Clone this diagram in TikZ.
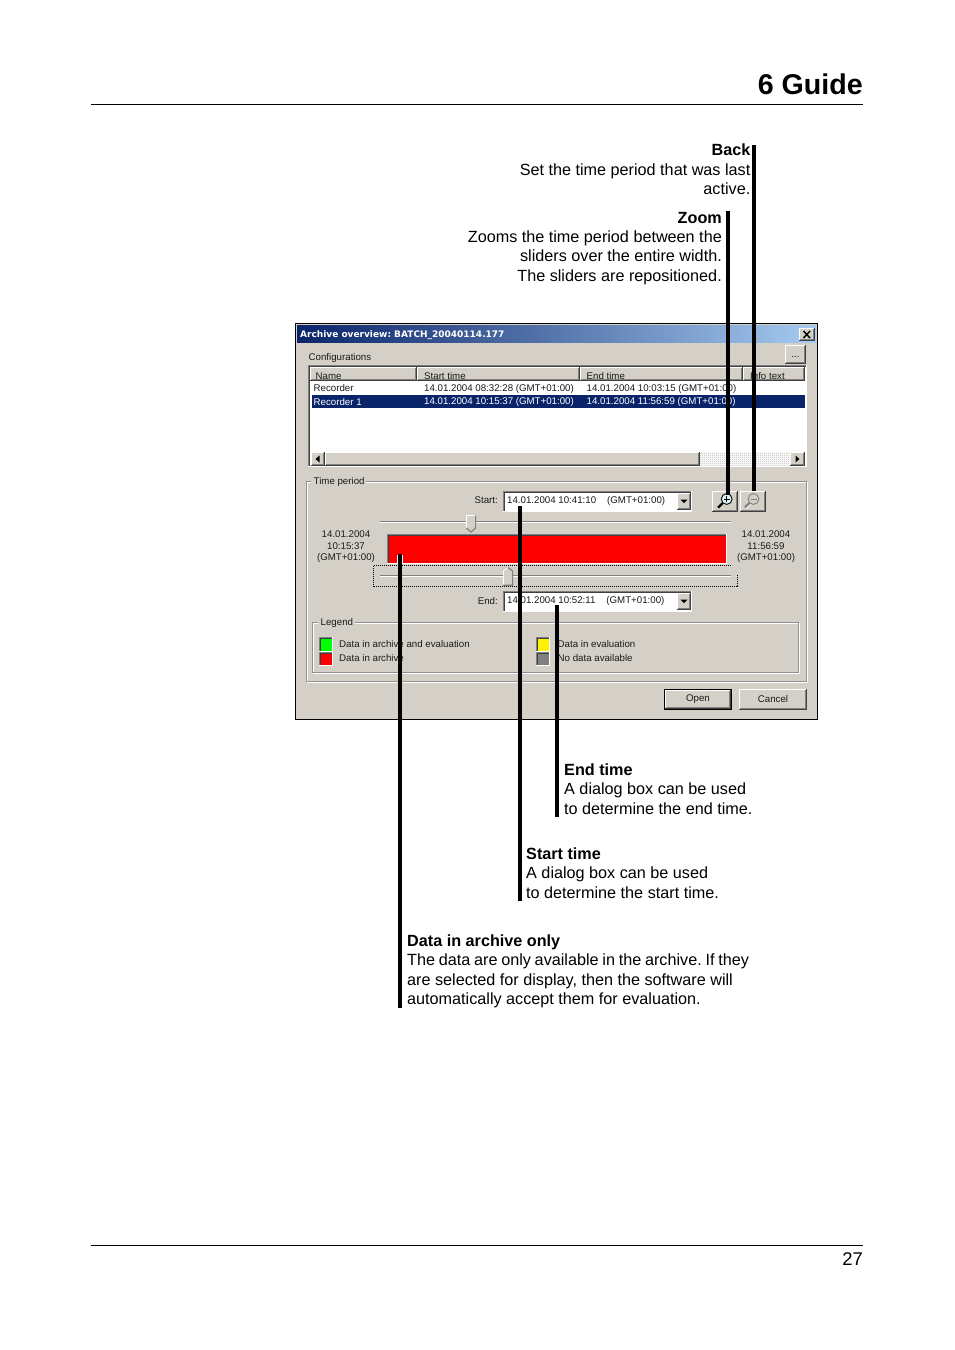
\documentclass[tikz,border=0pt]{standalone}
\usepackage{fontspec}
\usetikzlibrary{patterns}
\setmainfont{Liberation Sans}
\newfontfamily\titlefont{DejaVu Sans}
\frenchspacing
\definecolor{face}{HTML}{D4D0C8}
\definecolor{midgray}{HTML}{808080}
\definecolor{deep}{HTML}{404040}
\definecolor{navy}{HTML}{0A246A}
\definecolor{sky}{HTML}{A6CAF0}
\definecolor{uitext}{HTML}{1A1A1A}
\definecolor{lens}{HTML}{DDF6F8}
\pgfdeclarepatternformonly{scrolldots}{\pgfpointorigin}{\pgfqpoint{2pt}{2pt}}{\pgfqpoint{2pt}{2pt}}{%
  \pgfpathrectangle{\pgfpointorigin}{\pgfqpoint{1pt}{1pt}}%
  \pgfpathrectangle{\pgfqpoint{1pt}{1pt}}{\pgfqpoint{1pt}{1pt}}%
  \pgfusepath{fill}}
\tikzset{
  doc/.style={inner sep=0pt,font=\fontsize{16.2}{19.3}\selectfont},
  docr/.style={doc,align=right,anchor=north east},
  docl/.style={doc,align=left,anchor=north west},
  ui/.style={inner sep=0pt,text=uitext,font=\fontsize{9.7}{11.6}\selectfont},
  uil/.style={ui,anchor=west},
  uir/.style={ui,anchor=east},
  uic/.style={ui,anchor=center},
  uis/.style={uil,text=white},
  leader/.style={line width=3.8pt,black,line cap=butt},
  halo/.style={line width=5.8pt,white,line cap=butt},
  rule/.style={line width=0.8pt,black}
}
% raised button
\newcommand\rbtn[4]{%
  \fill[face] (#1,#2) rectangle (#3,#4);
  \draw[white,line width=1pt] (#1+.5,#4-1) -- (#1+.5,#2+.5) -- (#3-1,#2+.5);
  \draw[deep,line width=1pt] (#1,#4-.5) -- (#3-.5,#4-.5) -- (#3-.5,#2);
  \draw[midgray,line width=1pt] (#1+1,#4-1.5) -- (#3-1.5,#4-1.5) -- (#3-1.5,#2+1);
}
% sunken frame
\newcommand\sunk[5]{%
  \fill[#5] (#1,#2) rectangle (#3,#4);
  \draw[midgray,line width=1pt] (#1+.5,#4) -- (#1+.5,#2+.5) -- (#3,#2+.5);
  \draw[deep,line width=1pt] (#1+1.5,#4-1) -- (#1+1.5,#2+1.5) -- (#3-1,#2+1.5);
  \draw[white,line width=1pt] (#1,#4-.5) -- (#3-.5,#4-.5) -- (#3-.5,#2);
}
% etched group frame
\newcommand\etched[4]{%
  \draw[white,line width=1pt] (#1+1,#2+1) rectangle (#3+1,#4+1);
  \draw[midgray!80!face,line width=1pt] (#1,#2) rectangle (#3,#4);
}
\begin{document}
\begin{tikzpicture}[x=1pt,y=-1pt]
\useasboundingbox (0,0) rectangle (954,1350);
\fill[white] (0,0) rectangle (954,1350);

% page furniture
\node[inner sep=0pt,anchor=base east,font=\fontsize{28.6}{32}\selectfont\bfseries] (head) at (863,94) {6 Guide};
\coordinate (headL) at (91,104.5); \coordinate (headR) at (863,104.5);
\draw[rule] (headL) -- (headR);
\coordinate (footL) at (91,1245.5); \coordinate (footR) at (863,1245.5);
\draw[rule] (footL) -- (footR);
\node[inner sep=0pt,anchor=base east,font=\fontsize{18.4}{20}\selectfont] (pageno) at (863,1265.5) {27};

% window
\fill[face] (295,323) rectangle (818,720);
\draw[black,line width=1.2pt] (295.6,323.6) rectangle (817.6,719.4);
\shade[left color=navy,right color=sky] (297,325) rectangle (816,342);
\node[uil,text=white,font=\titlefont\bfseries\fontsize{9}{11}\selectfont] (wintitle) at (300,335.5) {Archive overview: BATCH\_20040114.177};
\rbtn{799}{328}{815}{341}
\draw[black,line width=1.5pt] (803.5,331) -- (810,338) (810,331) -- (803.5,338);

\node[uil] (cfg) at (308.5,357.5) {Configurations};
\rbtn{785}{345}{806}{364}
\node[uic] (dots) at (795.5,356.5) {...};

% list
\sunk{308}{365}{807}{467}{white}
\rbtn{310}{367}{417}{381}
\rbtn{417}{367}{580}{381}
\rbtn{580}{367}{743}{381}
\rbtn{743}{367}{805}{381}
\node[uil] (h1) at (315.5,376) {Name};
\node[uil] (h2) at (424,376) {Start time};
\node[uil] (h3) at (586.5,376) {End time};
\node[uil] (h4) at (750,376) {Info text};
\node[uil] (r1a) at (313.5,388.5) {Recorder};
\node[uil] (r1b) at (424,388.5) {14.01.2004 08:32:28 (GMT+01:00)};
\node[uil] (r1c) at (586.5,388.5) {14.01.2004 10:03:15 (GMT+01:00)};
\fill[navy] (312,395) rectangle (805,407.5);
\node[uis] (r2a) at (313.5,402) {Recorder 1};
\node[uis] (r2b) at (424,402) {14.01.2004 10:15:37 (GMT+01:00)};
\node[uis] (r2c) at (586.5,402) {14.01.2004 11:56:59 (GMT+01:00)};
% scrollbar
\fill[pattern=scrolldots,pattern color=midgray!55!white] (700,452) rectangle (790,465.5);
\rbtn{311}{452}{325}{466}
\fill[black] (319.5,455.5) -- (315.5,459) -- (319.5,462.5) -- cycle;
\rbtn{325}{452}{700}{466}
\rbtn{790}{452}{805}{466}
\fill[black] (795.5,455.5) -- (799.5,459) -- (795.5,462.5) -- cycle;

% time period group
\etched{306}{481}{806}{681}
\fill[face] (311,475) rectangle (366,488);
\node[uil] (tp) at (313.5,482) {Time period};

\node[uir] (startL) at (498,500.5) {Start:};
\sunk{503}{491}{692}{512}{white}
\node[uil] (startV) at (507,500.5) {14.01.2004 10:41:10\hspace{11pt}(GMT+01:00)};
\rbtn{677}{493}{691}{510}
\fill[black] (680.5,499.5) -- (687.5,499.5) -- (684,503) -- cycle;

% magnifier buttons
\rbtn{712}{491}{738}{511.5}
\rbtn{739.5}{491}{766}{511.5}
\draw[black,line width=2.2pt] (722.8,503) -- (718,507.7);
\draw[black,fill=lens,line width=.9pt] (726.7,499) circle (5.4);
\draw[black,line width=.8pt] (723.7,499) -- (729.7,499) (726.7,496) -- (726.7,502);
\draw[white,line width=2.2pt] (750,503.8) -- (746,508);
\draw[midgray,line width=2.2pt] (749.5,503) -- (745,507.3);
\draw[midgray,line width=.9pt] (753.5,499) circle (5.4);
\draw[midgray,line width=.8pt] (750.5,499) -- (756.5,499);

% sliders
\draw[midgray,line width=1.2pt] (380,521.5) -- (731,521.5);
\draw[white,line width=1pt] (380,522.7) -- (731,522.7);
\fill[face] (466,515) -- (476,515) -- (476,528) -- (471,532) -- (466,528) -- cycle;
\draw[white,line width=.8pt] (466.4,528) -- (466.4,515.4) -- (476,515.4);
\draw[midgray,line width=1.2pt] (475.6,515.4) -- (475.6,528) -- (471,532) -- (466.4,528);

\sunk{387}{534}{726.5}{563.5}{red}
\draw[black,line width=.7pt,dash pattern=on 1pt off 1pt] (737.5,575) -- (737.5,586) -- (373.5,586) -- (373.5,565.7) -- (731,565.7);
\draw[midgray,line width=1.2pt] (380,575.5) -- (731,575.5);
\draw[white,line width=1pt] (380,576.8) -- (731,576.8);
\fill[face] (503,585.5) -- (513,585.5) -- (513,571) -- (508,567) -- (503,571) -- cycle;
\draw[white,line width=.8pt] (503.4,585) -- (503.4,571) -- (508,567.4);
\draw[midgray,line width=1.2pt] (508,567.4) -- (512.6,571) -- (512.6,585.2) -- (503,585.2);

\node[uic,align=center] (dL) at (346,547) {14.01.2004\\10:15:37\\(GMT+01:00)};
\node[uic,align=center] (dR) at (766,547) {14.01.2004\\11:56:59\\(GMT+01:00)};

\node[uir] (endL) at (498,601.5) {End:};
\sunk{503}{591}{692}{611.5}{white}
\node[uil] (endV) at (507,601) {14.01.2004 10:52:11\hspace{11pt}(GMT+01:00)};
\rbtn{677}{592.5}{691}{610}
\fill[black] (680.5,599.5) -- (687.5,599.5) -- (684,603) -- cycle;

% legend
\etched{312.5}{622}{798.5}{672.5}
\fill[face] (318,616) rectangle (354.5,628);
\node[uil] (leg) at (320.5,622.5) {Legend};
\sunk{319}{637}{333}{651.5}{green}
\sunk{319}{651.5}{333}{665.5}{red}
\sunk{536}{637}{550}{651.5}{yellow}
\sunk{536}{651.5}{550}{665.5}{midgray}
\node[uil] (l1) at (339,644) {Data in archive and evaluation};
\node[uil] (l2) at (339,658.5) {Data in archive};
\node[uil] (l3) at (557.5,644) {Data in evaluation};
\node[uil] (l4) at (557.5,658.5) {No data available};

% bottom buttons
\rbtn{665}{690}{731}{709}
\draw[black,line width=1.2pt] (664.4,689.4) rectangle (731.6,709.6);
\rbtn{739}{689}{807}{710}
\node[uic] (open) at (698,699.5) {Open};
\node[uic] (cancel) at (773,699) {Cancel};

% callout text
\node[docr] (tBack) at (750.5,143.8) {\textbf{Back}\\Set the time period that was last\\active.};
\node[docr] (tZoom) at (722,212) {\textbf{Zoom}\\Zooms the time period between the\\sliders over the entire width.\\The sliders are repositioned.};
\node[docl] (tEnd) at (564,763.7) {\textbf{End time}\\A dialog box can be used\\to determine the end time.};
\node[docl] (tStart) at (526,847.7) {\textbf{Start time}\\A dialog box can be used\\to determine the start time.};
\node[docl] (tData) at (407,934.7) {\textbf{Data in archive only}\\{\spaceskip=3.75pt The data are only available in the archive. If they}\\are selected for display, then the software will\\automatically accept them for evaluation.};

% leaders
\coordinate (backA) at (754.3,145); \coordinate (backB) at (754.3,490.5);
\coordinate (zoomA) at (728,211);   \coordinate (zoomB) at (728,494.5);
\coordinate (dataA) at (400,1008);  \coordinate (dataB) at (400,554);
\coordinate (startA) at (520,901);  \coordinate (startB) at (520,506);
\coordinate (endA) at (557.2,817);  \coordinate (endB) at (557.2,605);
\coordinate (haloB) at (400,563);
\draw[halo] ([yshift=-1.2pt]dataB) -- (haloB);
\draw[leader] (backA) -- (backB);
\draw[leader] (zoomA) -- (zoomB);
\draw[leader] (dataA) -- (dataB);
\draw[leader] (startA) -- (startB);
\draw[leader] (endA) -- (endB);
\end{tikzpicture}
\end{document}
